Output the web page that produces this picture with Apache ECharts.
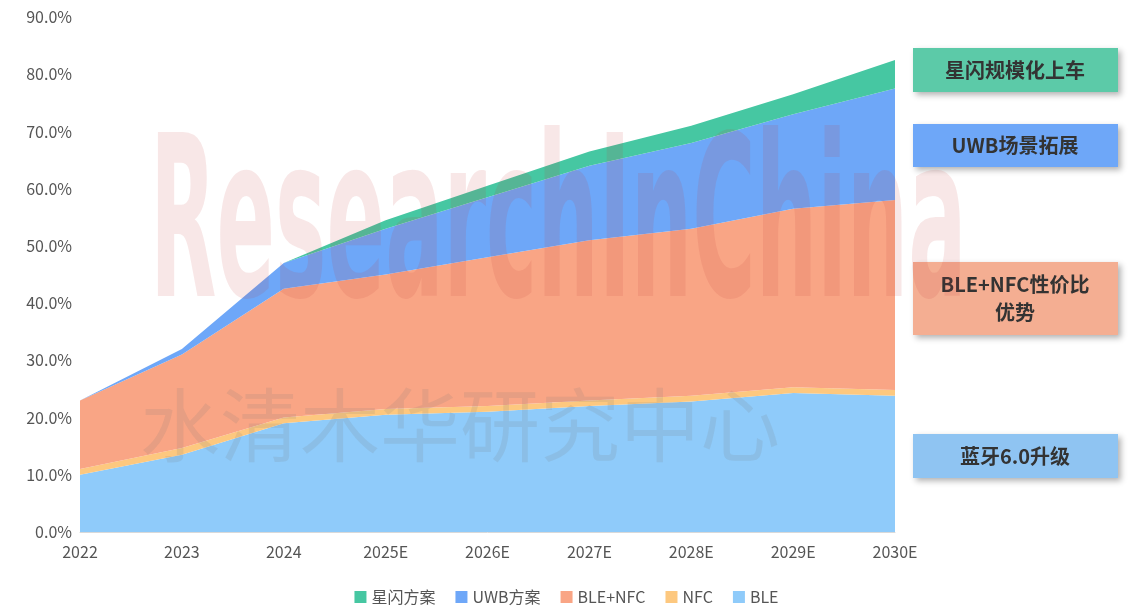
<!DOCTYPE html>
<html><head><meta charset="utf-8">
<script src="https://cdn.jsdelivr.net/npm/echarts@6/dist/echarts.min.js"></script>
<style>html,body{margin:0;padding:0;background:#fff}#c{width:1133px;height:614px}</style>
</head><body><div id="c"></div>
<script>
const categories=['2022','2023','2024','2025E','2026E','2027E','2028E','2029E','2030E'];
const ble=[10,13.5,19,20.5,21,22,22.8,24.3,23.8];
const nfc=[1,1.2,1,1,1,1,1,1,1];
const bleNfc=[12,16.3,22.5,23.5,26,28,29.2,31.2,33.2];
const uwb=[0,1,4.5,8,10.5,13,15,16.5,19.5];
const xingshan=[0,0,0,1.5,2,2.5,3,3.5,5];
const yTicks=[0,10,20,30,40,50,60,70,80,90];
const chart=echarts.init(document.getElementById('c'));
const font='"Noto Sans CJK SC","Noto Sans",sans-serif';
function s(name,data,color){return {name,type:'line',stack:'t',data,symbol:'none',lineStyle:{width:0},areaStyle:{color,opacity:1},itemStyle:{color}};}
function box(y,h,color,text){return [{type:'rect',shape:{x:913,y,width:205,height:h},style:{fill:color,shadowBlur:6,shadowOffsetX:3,shadowOffsetY:3,shadowColor:'rgba(0,0,0,0.3)'}},
{type:'text',x:1015,y:y+h/2,style:{text,fill:'#333',font:'bold 20px '+font,align:'center',verticalAlign:'middle',lineHeight:28}}];}
chart.setOption({
animation:false,
grid:{left:80,right:238,top:17,bottom:82},
legend:{bottom:4,itemWidth:12,itemHeight:12,itemGap:20,icon:'rect',textStyle:{color:'#555',fontSize:16,fontFamily:font},
data:['星闪方案','UWB方案','BLE+NFC','NFC','BLE']},
xAxis:{type:'category',boundaryGap:false,data:categories,axisLine:{lineStyle:{color:'#d9d9d9'}},axisTick:{show:false},
axisLabel:{color:'#555',fontSize:16,margin:12,fontFamily:font}},
yAxis:{type:'value',min:0,max:90,interval:10,splitLine:{show:false},axisLine:{show:false},
axisLabel:{color:'#555',fontSize:16,fontFamily:font,formatter:v=>v.toFixed(1)+'%'}},
series:[s('BLE',ble,'#8fcbfa'),s('NFC',nfc,'#fdc87f'),s('BLE+NFC',bleNfc,'#f9a585'),s('UWB方案',uwb,'#6ea7f8'),s('星闪方案',xingshan,'#46c7a2')],
graphic:[
{type:'text',x:150,y:125,z:100,scaleX:0.64,scaleY:1.5,style:{text:'ResearchInChina',fill:'rgba(200,60,60,0.12)',font:'bold 150px "DejaVu Sans Condensed",sans-serif'}},
{type:'text',x:140,y:385,z:100,style:{text:'水清木华研究中心',fill:'rgba(120,120,120,0.15)',font:'80px '+font}},
...box(48,44,'#5ccaa8','星闪规模化上车'),
...box(124,43,'#6ea7f8','UWB场景拓展'),
...box(262,73,'#f4ae92','BLE+NFC性价比\n优势'),
...box(434,44,'#8fc4f2','蓝牙6.0升级')
]});
</script></body></html>
